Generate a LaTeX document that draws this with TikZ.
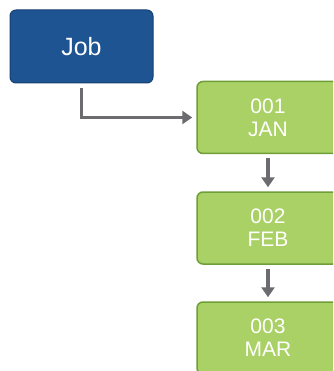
\documentclass[tikz,border=0pt]{standalone}
\usepackage{fontspec}
\setmainfont{Liberation Sans}
\usetikzlibrary{arrows.meta}
\definecolor{jobblue}{RGB}{30,84,145}
\definecolor{jobborder}{RGB}{22,64,112}
\definecolor{greenfill}{RGB}{170,209,101}
\definecolor{greenborder}{RGB}{110,158,55}
\definecolor{arrowgray}{RGB}{108,108,112}
\begin{document}
\begin{tikzpicture}[x=1pt,y=-1pt,
  jobbox/.style={draw=jobborder, fill=jobblue, rounded corners=6pt, line width=1pt,
    minimum width=143pt, minimum height=73pt, text=white, inner sep=0pt,
    font=\fontsize{25}{28}\selectfont},
  monthbox/.style={draw=greenborder, fill=greenfill, rounded corners=6pt, line width=1.5pt,
    minimum width=142pt, minimum height=72pt, text=white, inner sep=0pt, align=center,
    font=\fontsize{21}{23}\selectfont},
  conn/.style={draw=arrowgray, line width=3.5pt, -{Triangle[length=10pt,width=13pt]}}]
\useasboundingbox (0,0) rectangle (333,371);
\clip (0,0) rectangle (333,371);
\node[jobbox] (job) at (81.5,46.5) {Job};
\node[monthbox] (m1) at (268,117.5) {001\\JAN};
\node[monthbox] (m2) at (268,228) {002\\FEB};
\node[monthbox] (m3) at (268,338) {003\\MAR};
\draw[conn, shorten <=5pt, shorten >=4pt] (job.south) |- (m1.west);
\draw[conn, shorten <=4pt, shorten >=4pt] (m1.south) -- (m2.north);
\draw[conn, shorten <=4pt, shorten >=4pt] (m2.south) -- (m3.north);
\end{tikzpicture}
\end{document}
